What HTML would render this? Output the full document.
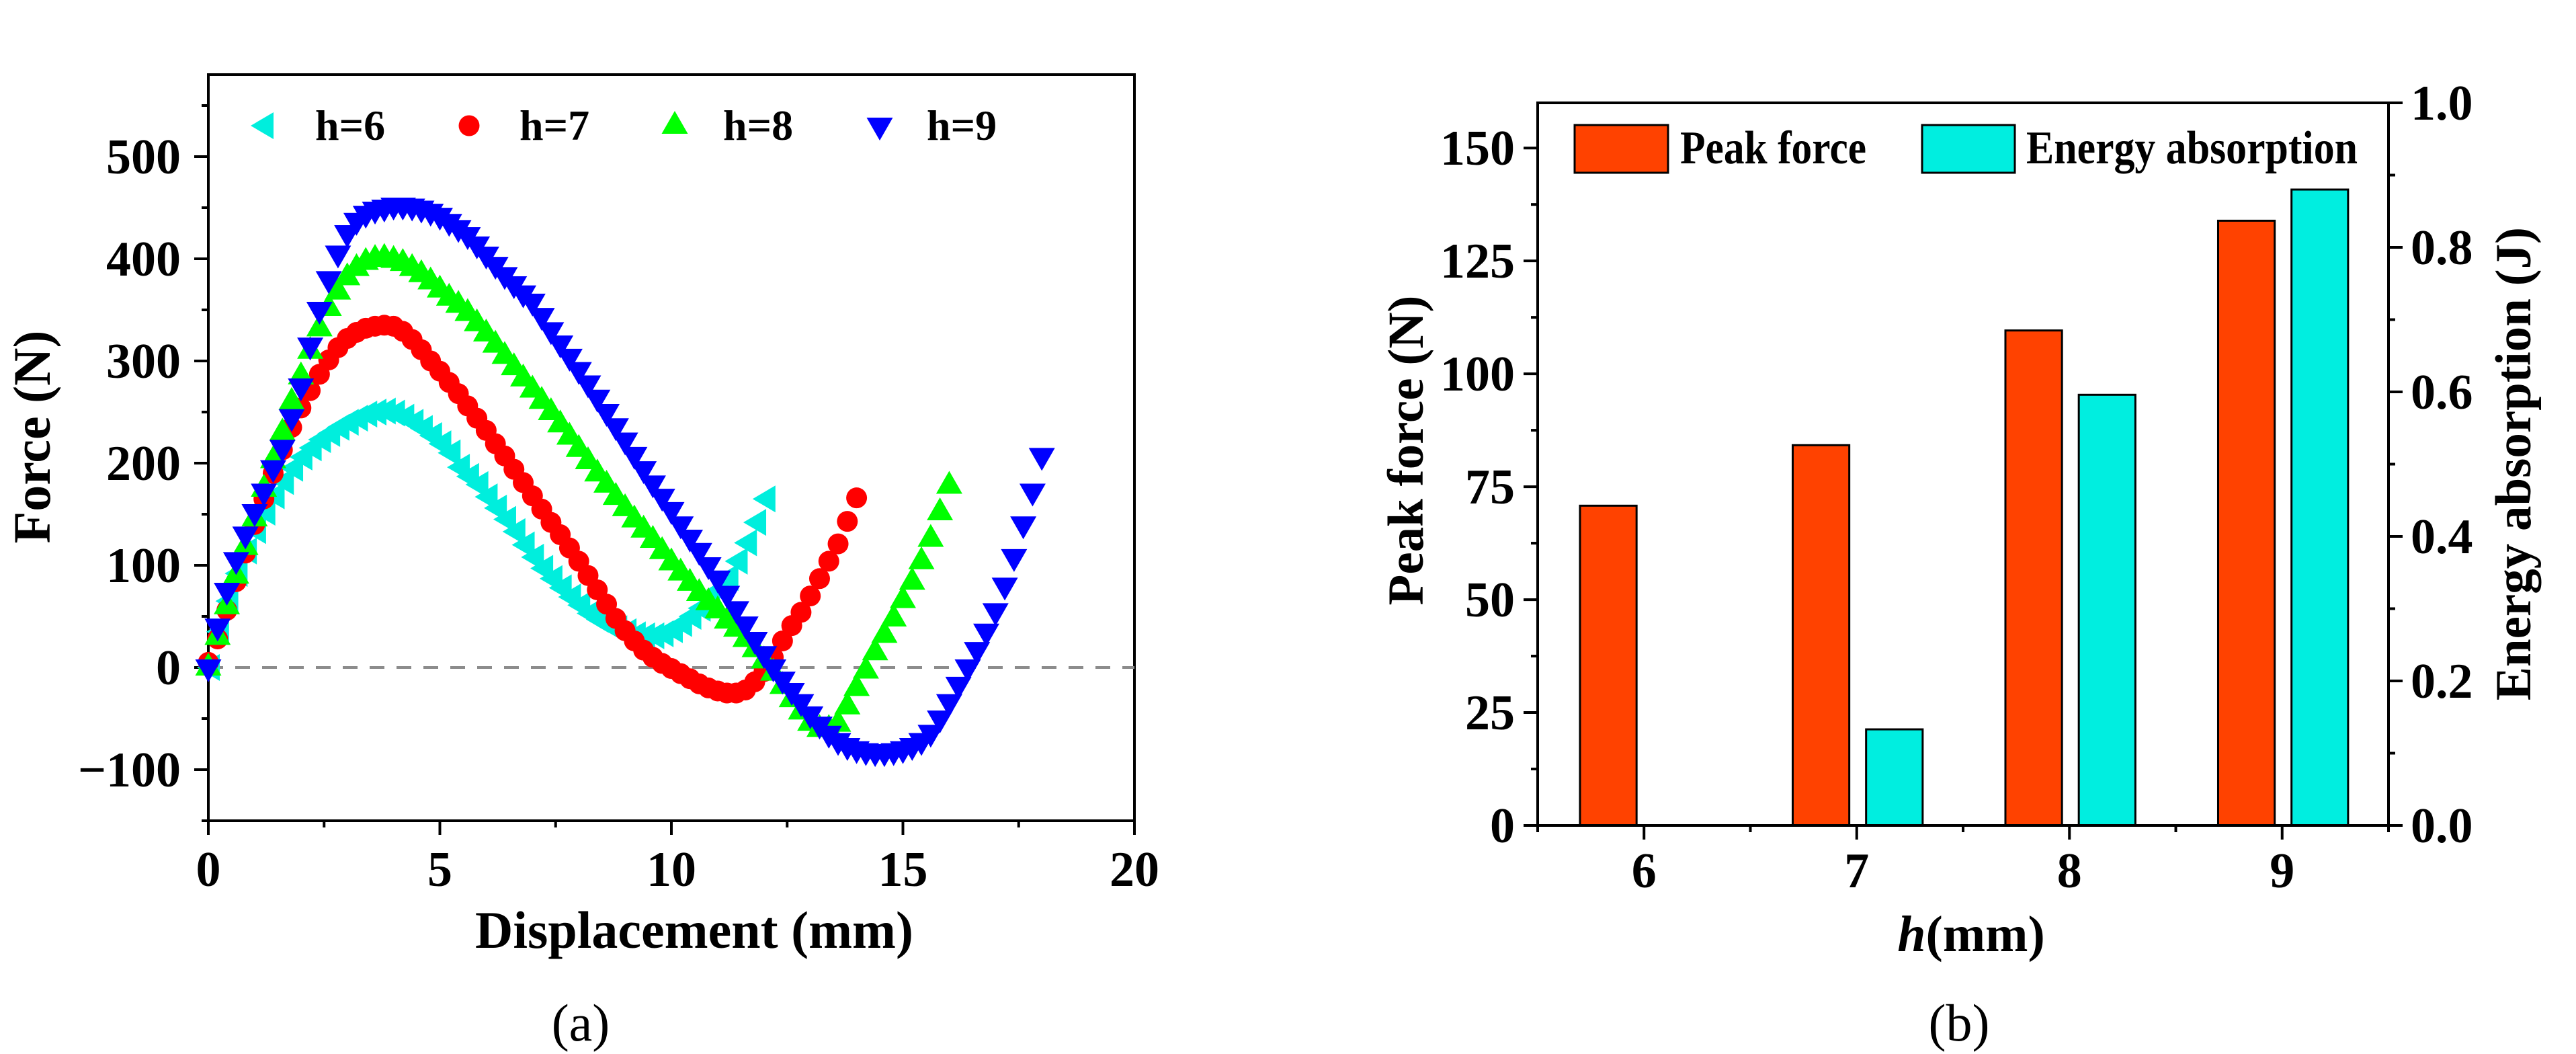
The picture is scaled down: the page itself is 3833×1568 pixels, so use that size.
<!DOCTYPE html>
<html><head><meta charset="utf-8"><style>
html,body{margin:0;padding:0;background:#fff;}
svg{display:block;}
text{font-family:"Liberation Serif","Times New Roman",serif;font-weight:bold;}
</style></head><body>
<svg id="fig" width="3833" height="1568" viewBox="0 0 3833 1568" xmlns="http://www.w3.org/2000/svg" font-family="Liberation Serif, serif" font-weight="bold">
<g id="pa"></g>
<g id="pb"></g>
</svg>
<script>
// ---------- Panel (a) data ----------
const step = 0.2;
const h6Force = [0,35,65,92,114,134,152,168,182,195,206,215,223,229,235,240,244,248,250,251,249,245,240,234,227,219,210,196,187,179,167,156,145,133,120,108,97,87,78,69,61,53,47,42,38,35,32,31,31,33,37,43,50,58,66,76,88,104,122,142,165];
const h7Force = [5,28,56,84,112,140,165,190,213,235,254,271,287,301,313,322,328,332,334,335,334,329,321,311,300,290,279,268,256,244,232,219,207,194,181,168,155,142,130,117,104,90,76,62,48,36,26,17,10,4,-1,-6,-11,-16,-20,-23,-25,-25,-22,-14,-4,10,26,41,54,70,87,104,121,143,166];
const h8Force = [0,30,60,90,118,146,175,203,230,260,285,310,332,352,368,382,391,397,400,401,399,396,391,385,378,370,362,355,347,337,327,316,305,294,283,272,261,250,238,226,214,202,190,179,167,156,145,135,125,114,103,93,83,73,64,56,46,38,28,18,7,-5,-18,-31,-43,-54,-60,-60,-55,-38,-20,-3,15,32,48,66,84,104,126,152,178];
const h9Force = [0,40,75,105,130,152,172,195,215,245,275,315,350,380,405,425,437,444,448,450,452,452,451,449,446,442,436,430,423,414,404,394,384,375,366,358,344,330,317,304,291,278,264,250,236,222,208,194,180,167,154,140,127,114,100,87,72,57,42,27,13,0,-12,-23,-34,-46,-56,-65,-72,-77,-80,-82,-83,-83,-82,-80,-77,-72,-64,-50,-34,-17,0,17,35,55,80,108,140,172,207];
const aXTicks = [0,5,10,15,20];
const aYTicks = [-100,0,100,200,300,400,500];
const legendA = ["h=6","h=7","h=8","h=9"];

// ---------- Panel (b) data ----------
const hCats = [6,7,8,9];
const peakForce = [70.8,84.2,109.6,133.9];
const energyAbs = [0,0.133,0.596,0.880];
const bLeftTicks = [0,25,50,75,100,125,150];
const bRightTicks = ["0.0","0.2","0.4","0.6","0.8","1.0"];

const NS = "http://www.w3.org/2000/svg";
const FF = '"Liberation Serif", "Times New Roman", serif';
function mk(tag, attrs, parent){const e=document.createElementNS(NS,tag);for(const k in attrs)e.setAttribute(k,attrs[k]);if(tag==='text'){e.style.fontFamily=FF;if(!attrs['font-weight'])e.style.fontWeight='bold';else e.style.fontWeight=attrs['font-weight'];}parent.appendChild(e);return e;}

// ===== Panel a =====
const pa = document.getElementById('pa');
const AX0=310, AX1=1688, AY0=993, AYS=1.52, ATOP=111, ABOT=1221;
const ax = v => AX0 + (AX1-AX0)*v/20;
const ay = v => AY0 - v*AYS;

let el;
el = mk('rect',{x:AX0,y:ATOP,width:AX1-AX0,height:ABOT-ATOP,fill:'none',stroke:'#000','stroke-width':4},pa);


el = mk('line',{x1:AX0,y1:ay(0),x2:AX1,y2:ay(0),stroke:'#8c8c8c','stroke-width':4,'stroke-dasharray':'22 18'},pa);



for(let v=-150; v<=550; v+=50){
  const major = v%100===0;
  el = mk('line',{x1:AX0-(major?21:10),y1:ay(v),x2:AX0,y2:ay(v),stroke:'#000','stroke-width':4},pa);
  
  
}
aYTicks.forEach(v=>{
  el = mk('text',{x:269,y:ay(v)+25,'text-anchor':'end','font-size':74},pa);
  el.textContent = v<0 ? '\u2212'+Math.abs(v) : String(v);
  
  
});
for(let v=0; v<=20; v+=2.5){
  const major = v%5===0;
  el = mk('line',{x1:ax(v),y1:ABOT,x2:ax(v),y2:ABOT+(major?21:10),stroke:'#000','stroke-width':4},pa);
  
  
}
aXTicks.forEach(v=>{
  el = mk('text',{x:ax(v),y:1318,'text-anchor':'middle','font-size':74},pa);
  el.textContent = String(v);
  
  
});
el = mk('text',{x:1033,y:1410,'text-anchor':'middle','font-size':78},pa);
el.textContent='Displacement (mm)';


el = mk('text',{x:0,y:0,'text-anchor':'middle','font-size':78,transform:'translate(74,650) rotate(-90)'},pa);
el.textContent='Force (N)';


el = mk('text',{x:864,y:1548,'text-anchor':'middle','font-size':78,'font-weight':'normal'},pa);
el.textContent='(a)';



function marker(kind,cx,cy,color,parent){
  let e;
  if(kind==='left') e=mk('polygon',{points:`${cx-17},${cy} ${cx+17},${cy-20} ${cx+17},${cy+20}`,fill:color},parent);
  else if(kind==='up') e=mk('polygon',{points:`${cx},${cy-22} ${cx-19.5},${cy+12} ${cx+19.5},${cy+12}`,fill:color},parent);
  else if(kind==='down') e=mk('polygon',{points:`${cx},${cy+22} ${cx-19.5},${cy-12} ${cx+19.5},${cy-12}`,fill:color},parent);
  else e=mk('circle',{cx:cx,cy:cy,r:15.5,fill:color},parent);
  return e;
}
const seriesA=[
  {name:'h6',data:h6Force,kind:'left',color:'#00EEDD'},
  {name:'h7',data:h7Force,kind:'circle',color:'#FF0000'},
  {name:'h8',data:h8Force,kind:'up',color:'#00FF00'},
  {name:'h9',data:h9Force,kind:'down',color:'#0000FF'}
];
seriesA.forEach(s=>{
  const g = mk('g',{},pa);
  
  
  s.data.forEach((v,i)=>{
    const m = marker(s.kind, ax(i*step), ay(v), s.color, g);
    
    
  });
});
const legMx=[390,698,1004,1309], legTx=[469,773,1076,1379];
seriesA.forEach((s,i)=>{
  const m = marker(s.kind, legMx[i], 187, s.color, pa);
  
  
  const t = mk('text',{x:legTx[i],y:208,'font-size':64},pa);
  t.textContent = legendA[i];
  
  
});

// ===== Panel b =====
const pb = document.getElementById('pb');
const BX0=2288, BX1=3554, BTOP=153, BBOT=1228;
const bx = v => BX0 + (BX1-BX0)*(v-5.5)/4;
const byL = v => BBOT - (BBOT-BTOP)*v/160;
const byR = v => BBOT - (BBOT-BTOP)*v/1.0;
const unit = (BX1-BX0)/4;

hCats.forEach((c,i)=>{
  el = mk('rect',{x:bx(c)-0.168*unit-0.133*unit,y:byL(peakForce[i]),width:0.266*unit,height:BBOT-byL(peakForce[i]),fill:'#FF4200',stroke:'#000','stroke-width':3},pb);
  
  
  if(energyAbs[i]>0){
    el = mk('rect',{x:bx(c)+0.177*unit-0.133*unit,y:byR(energyAbs[i]),width:0.266*unit,height:BBOT-byR(energyAbs[i]),fill:'#00EEE0',stroke:'#000','stroke-width':3},pb);
    
    
  }
});
el = mk('rect',{x:BX0,y:BTOP,width:BX1-BX0,height:BBOT-BTOP,fill:'none',stroke:'#000','stroke-width':4},pb);



for(let v=0; v<=150; v+=12.5){
  const major = v%25===0;
  el = mk('line',{x1:BX0-(major?21:10),y1:byL(v),x2:BX0,y2:byL(v),stroke:'#000','stroke-width':4},pb);
  
  
}
bLeftTicks.forEach(v=>{
  el = mk('text',{x:2254,y:byL(v)+25,'text-anchor':'end','font-size':74},pb);
  el.textContent=String(v);
  
  
});
for(let k=0;k<=10;k++){
  const v=k/10, major=k%2===0;
  el = mk('line',{x1:BX1,y1:byR(v),x2:BX1+(major?21:10),y2:byR(v),stroke:'#000','stroke-width':4},pb);
  
  
}
bRightTicks.forEach(s=>{
  el = mk('text',{x:3587,y:byR(parseFloat(s))+25,'font-size':74},pb);
  el.textContent=s;
  
  
});
for(let v=5.5; v<=9.5; v+=0.5){
  const major = Number.isInteger(v);
  el = mk('line',{x1:bx(v),y1:BBOT,x2:bx(v),y2:BBOT+(major?21:10),stroke:'#000','stroke-width':4},pb);
  
  
}
hCats.forEach(c=>{
  el = mk('text',{x:bx(c),y:1320,'text-anchor':'middle','font-size':74},pb);
  el.textContent=String(c);
  
  
});
el = mk('text',{x:2933,y:1415,'text-anchor':'middle','font-size':76},pb);
const ts1 = document.createElementNS(NS,'tspan'); ts1.setAttribute('font-style','italic'); ts1.style.fontStyle='italic'; ts1.textContent='h'; el.appendChild(ts1);
const ts2 = document.createElementNS(NS,'tspan'); ts2.textContent='(mm)'; el.appendChild(ts2);


el = mk('text',{x:0,y:0,'text-anchor':'middle','font-size':75,transform:'translate(2117,670) rotate(-90)'},pb);
el.textContent='Peak force (N)';


el = mk('text',{x:0,y:0,'text-anchor':'middle','font-size':75,transform:'translate(3765,690) rotate(-90)'},pb);
el.textContent='Energy absorption (J)';


el = mk('text',{x:2915,y:1548,'text-anchor':'middle','font-size':78,'font-weight':'normal'},pb);
el.textContent='(b)';



el = mk('rect',{x:2343,y:186,width:139,height:71,fill:'#FF4200',stroke:'#000','stroke-width':3},pb);


el = mk('text',{x:2500,y:243,'font-size':70,textLength:277,lengthAdjust:'spacingAndGlyphs'},pb);
el.textContent='Peak force';


el = mk('rect',{x:2860,y:186,width:138,height:71,fill:'#00EEE0',stroke:'#000','stroke-width':3},pb);


el = mk('text',{x:3015,y:243,'font-size':70,textLength:493,lengthAdjust:'spacingAndGlyphs'},pb);
el.textContent='Energy absorption';


</script>
</body></html>
